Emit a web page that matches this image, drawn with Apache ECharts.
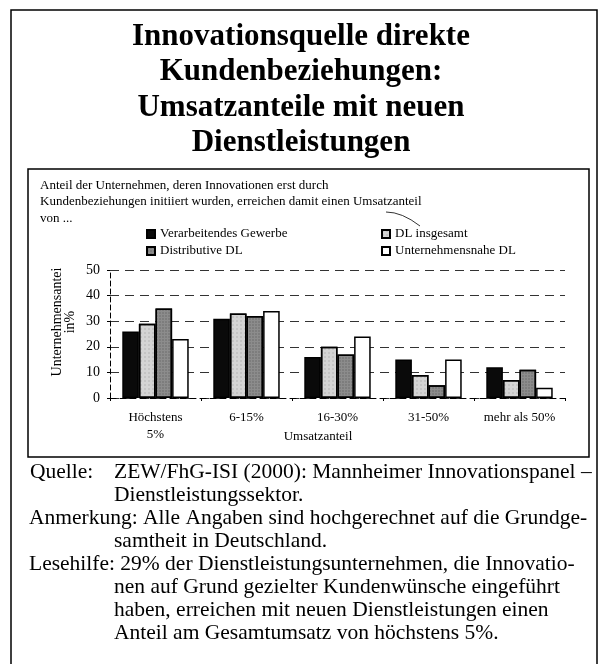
<!DOCTYPE html>
<html>
<head>
<meta charset="utf-8">
<title>Innovationsquelle direkte Kundenbeziehungen</title>
<style>
  html, body { margin: 0; padding: 0; background: #fff; }
  #chart { width: 602px; height: 664px; }
</style>
</head>
<body>
<div id="chart"></div>
<script src="https://cdn.jsdelivr.net/npm/echarts@6/dist/echarts.min.js"></script>
<script>
// data
var categories = ['Höchstens\n5%', '6-15%', '16-30%', '31-50%', 'mehr als 50%'];
var seriesNames = ['Verarbeitendes Gewerbe', 'DL insgesamt', 'Distributive DL', 'Unternehmensnahe DL'];
var verarbeitend = [26, 31, 16, 15, 12];
var dlGesamt = [29, 33, 20, 9, 7];
var distributiv = [35, 32, 17, 5, 11];
var unternehmensnah = [23, 34, 24, 15, 4];
var yTicks = [0, 10, 20, 30, 40, 50];

var serif = '"Liberation Serif", "DejaVu Serif", serif';

var app = echarts.init(document.getElementById('chart'));

function bar(name, data, color, decal) {
    var s = {
        name: name,
        type: 'bar',
        data: data,
        barGap: '0%',
        barCategoryGap: '27%',
        itemStyle: { color: color, borderColor: '#000', borderWidth: 1.5 }
    };
    if (decal) s.itemStyle.decal = decal;
    return s;
}

function note(x, y, text) {
    return { type: 'text', x: x, y: y, style: { text: text, font: '21.5px ' + serif, fill: '#000', verticalAlign: 'middle' } };
}

var legendText = { fontFamily: serif, fontSize: 13, color: '#000', lineHeight: 14 };

var option = {
    backgroundColor: '#fff',
    animation: false,
    title: {
        text: 'Innovationsquelle direkte\nKundenbeziehungen:\nUmsatzanteile mit neuen\nDienstleistungen',
        left: 'center',
        top: 14,
        textStyle: { fontFamily: serif, fontSize: 31, fontWeight: 'bold', color: '#000', lineHeight: 35.5 }
    },
    legend: [{
        orient: 'vertical',
        left: 141, top: 222,
        itemWidth: 8, itemHeight: 8, itemGap: 3,
        icon: 'rect',
        data: [seriesNames[0], seriesNames[2]],
        textStyle: legendText
    }, {
        orient: 'vertical',
        left: 376, top: 222,
        itemWidth: 8, itemHeight: 8, itemGap: 3,
        icon: 'rect',
        data: [seriesNames[1], seriesNames[3]],
        textStyle: legendText
    }],
    grid: { left: 110, right: 37, top: 270, bottom: 266 },
    xAxis: {
        type: 'category',
        data: categories,
        axisLine: { lineStyle: { color: '#000', width: 1, type: [6, 4] } },
        axisTick: { show: true, length: 3, lineStyle: { color: '#000' } },
        axisLabel: { interval: 0, fontFamily: serif, fontSize: 13, color: '#000', margin: 11, lineHeight: 17 }
    },
    yAxis: {
        type: 'value',
        min: yTicks[0],
        max: yTicks[yTicks.length - 1],
        interval: yTicks[1] - yTicks[0],
        axisLine: { show: true, lineStyle: { color: '#000', width: 1, type: [5, 3] } },
        axisTick: { show: true, length: 3, lineStyle: { color: '#000' } },
        axisLabel: { fontFamily: serif, fontSize: 14, color: '#000', margin: 10 },
        splitLine: { lineStyle: { color: '#333', width: 1, type: [9, 6] } }
    },
    series: [
        bar(seriesNames[0], verarbeitend, '#0a0a0a'),
        bar(seriesNames[1], dlGesamt, '#d4d4d4', { symbol: 'rect', symbolSize: 0.6, color: 'rgba(0,0,0,0.25)', dashArrayX: [2, 2], dashArrayY: [2, 2], rotation: 0 }),
        bar(seriesNames[2], distributiv, '#8c8c8c', { symbol: 'rect', symbolSize: 0.6, color: 'rgba(0,0,0,0.35)', dashArrayX: [2, 1], dashArrayY: [2, 1], rotation: 0 }),
        bar(seriesNames[3], unternehmensnah, '#ffffff')
    ],
    graphic: [
        // outer frame
        { type: 'rect', shape: { x: 11, y: 10, width: 586, height: 680 }, style: { fill: 'none', stroke: '#000', lineWidth: 1.5 }, silent: true },
        // chart frame
        { type: 'rect', shape: { x: 28, y: 169, width: 561, height: 288 }, style: { fill: 'none', stroke: '#000', lineWidth: 1.5 }, silent: true },
        {
            type: 'text', left: 40, top: 177,
            style: {
                text: 'Anteil der Unternehmen, deren Innovationen erst durch\nKundenbeziehungen initiiert wurden, erreichen damit einen Umsatzanteil\nvon ...',
                font: '13px ' + serif, fill: '#000', lineHeight: 16.5
            }
        },
        // little pointer line under "Umsatzanteil"
        { type: 'bezierCurve', shape: { x1: 386, y1: 212, x2: 420, y2: 226, cpx1: 402, cpy1: 212 }, style: { stroke: '#000', lineWidth: 0.8, fill: 'none' } },
        {
            type: 'text', x: 64, y: 322, rotation: Math.PI / 2,
            style: { text: 'Unternehmensantei\nin%', font: '14px ' + serif, fill: '#000', align: 'center', verticalAlign: 'middle', lineHeight: 13 }
        },
        {
            type: 'text', x: 318, y: 437,
            style: { text: 'Umsatzanteil', font: '13px ' + serif, fill: '#000', align: 'center', verticalAlign: 'middle' }
        },
        // notes below the chart
        note(30, 472, 'Quelle:'),
        note(114, 472, 'ZEW/FhG-ISI (2000): Mannheimer Innovationspanel –'),
        note(114, 495, 'Dienstleistungssektor.'),
        note(29, 518, 'Anmerkung: Alle Angaben sind hochgerechnet auf die Grundge-'),
        note(114, 541, 'samtheit in Deutschland.'),
        note(29, 564, 'Lesehilfe: 29% der Dienstleistungsunternehmen, die Innovatio-'),
        note(114, 587, 'nen auf Grund gezielter Kundenwünsche eingeführt'),
        note(114, 610, 'haben, erreichen mit neuen Dienstleistungen einen'),
        note(114, 633, 'Anteil am Gesamtumsatz von höchstens 5%.')
    ]
};

app.setOption(option);
</script>
</body>
</html>
